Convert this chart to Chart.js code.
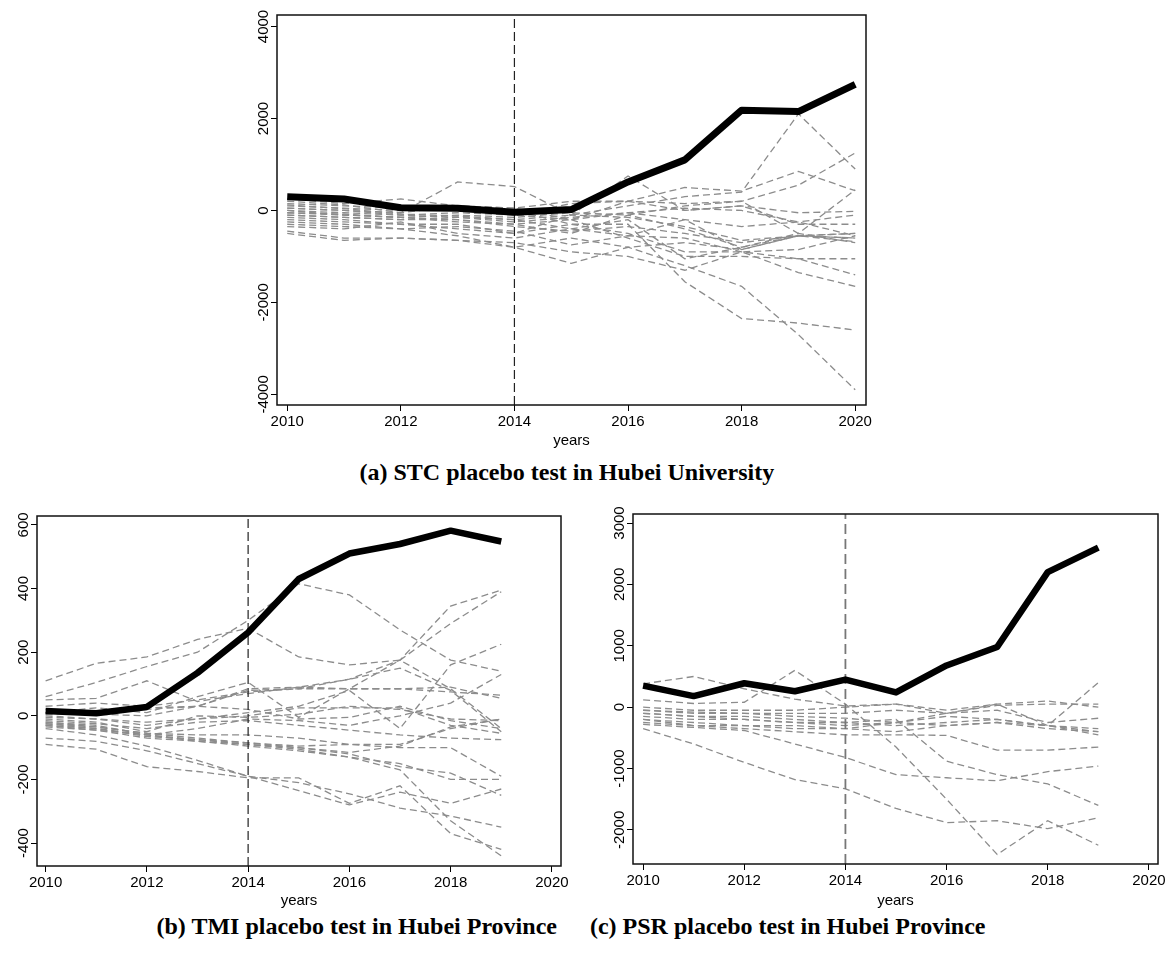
<html>
<head>
<meta charset="UTF-8">
<title>Placebo tests</title>
<script src="https://cdn.jsdelivr.net/npm/chart.js"></script>
<style>
  body { margin: 0; background: #fff; width: 1171px; height: 953px; position: relative; overflow: hidden; }
  canvas { position: absolute; }
  .cap { position: absolute; font-family: "Liberation Serif", "Times New Roman", serif; font-weight: bold; font-size: 24px; color: #000; white-space: nowrap; line-height: 28px; }
  .gap { display: inline-block; width: 33px; }
</style>
</head>
<body>
<canvas id="chartA" width="650" height="450" style="left:230px;top:0px"></canvas>
<canvas id="chartB" width="580" height="410" style="left:0px;top:500px"></canvas>
<canvas id="chartC" width="581" height="410" style="left:590px;top:500px"></canvas>
<div class="cap" id="capA" style="top:458px">(a) STC placebo test in Hubei University</div>
<div class="cap" id="capBC" style="top:912px">(b) TMI placebo test in Hubei Province<span class="gap"></span>(c) PSR placebo test in Hubei Province</div>

<script>
// years and ticks
const yearsA = [2010, 2011, 2012, 2013, 2014, 2015, 2016, 2017, 2018, 2019, 2020];
const yearsBC = [2010, 2011, 2012, 2013, 2014, 2015, 2016, 2017, 2018, 2019];
const xTicks = [2010, 2012, 2014, 2016, 2018, 2020];
const eventYear = 2014;

// (a) STC, Hubei University
const treatedA = [300, 250, 60, 50, -40, 20, 620, 1100, 2180, 2150, 2740];
const placeboA = [
  [120, 40, -80, -120, -200, -100, 100, 300, 400, 2100, 900],
  [-50, -80, -150, -100, -150, -50, -100, 100, 200, 550, 1250],
  [50, 0, -100, -50, -100, 150, 200, 500, 420, 850, 430],
  [-100, -150, -200, -200, -300, -200, 200, 150, 200, -500, 450],
  [200, 120, -50, 620, 520, -100, -150, -350, -650, -550, -600],
  [-150, -200, -300, -300, -500, -100, 750, 0, 100, -300, -300],
  [-200, -250, -300, -400, -500, -300, -300, -1550, -2350, -2450, -2600],
  [-300, -350, -400, -550, -800, -600, -800, -1200, -1650, -2700, -3900],
  [-500, -650, -600, -650, -800, -1150, -800, -700, -850, -550, -500],
  [-450, -600, -600, -650, -700, -900, -1000, -1300, -900, -850, -550],
  [250, 150, 250, 100, 50, -200, -600, -1000, -1000, -1050, -1050],
  [100, 50, 0, 50, 0, -300, -500, -900, -900, -1350, -1650],
  [0, -50, -100, -150, -200, -400, -550, -600, -900, -1050, -1400],
  [150, 100, 50, 100, 50, 200, 200, 0, 100, -50, -20],
  [-100, -150, -200, -150, -250, -150, -50, -200, -350, -250, -100],
  [-50, -100, -150, -200, -350, -450, -350, -500, -700, -550, -680],
  [0, -100, -150, -250, -300, -500, -100, -400, -800, -550, -500],
  [50, 0, -50, 100, -100, -200, -50, 50, 0, -250, -550],
  [-250, -300, -400, -350, -450, -750, -550, -200, -850, -550, -600],
  [-350, -400, -250, -500, -600, -400, -200, -1050, -800, -500, -700]
];
const yTicksA = [-4000, -2000, 0, 2000, 4000];

// (b) TMI, Hubei Province
const treatedB = [15, 8, 28, 135, 262, 430, 510, 540, 582, 548];
const placeboB = [
  [110, 165, 185, 240, 275, 185, 160, 175, 85, -40],
  [60, 105, 155, 200, 300, 415, 380, 270, 175, 140],
  [50, 55, 110, 45, 70, 90, 115, 175, 345, 395],
  [10, 25, 10, 60, 105, -5, 85, 175, 290, 390],
  [30, 40, 30, 50, 75, 85, 115, 150, 80, -50],
  [0, -10, -30, -10, 10, 30, 80, -40, 160, 225],
  [20, 15, 20, 30, 85, 90, 85, 85, 90, 55],
  [10, 5, 0, 30, 80, 85, 85, 85, 75, 65],
  [-5, -10, -20, -10, 0, 25, 25, 25, -30, -55],
  [-10, -20, -50, 0, -5, 5, 30, 20, -10, -15],
  [-20, -30, -60, -40, -10, -15, -30, 0, 40, 130],
  [-15, -25, -40, -20, -15, -30, -45, -60, -70, -75],
  [-25, -35, -55, -60, -60, -70, -90, -90, -40, -10],
  [-30, -40, -65, -75, -85, -100, -115, -95, -35, -10],
  [-35, -45, -70, -80, -90, -100, -120, -160, -180, -250],
  [-30, -45, -60, -75, -90, -105, -130, -150, -200, -200],
  [-20, -35, -55, -70, -85, -95, -90, -100, -100, -190],
  [-90, -105, -160, -175, -195, -195, -275, -220, -370, -420],
  [-70, -80, -110, -150, -190, -235, -280, -240, -275, -230],
  [-40, -60, -95, -140, -190, -210, -245, -290, -315, -350],
  [-25, -40, -60, -80, -95, -110, -130, -170, -330, -440],
  [5, 10, 25, 30, 20, -10, -5, 30, -15, -40]
];
const yTicksB = [-400, -200, 0, 200, 400, 600];

// (c) PSR, Hubei Province
const treatedC = [350, 180, 390, 260, 450, 240, 680, 980, 2200, 2600];
const placeboC = [
  [380, 500, 300, 130, 20, 50, -100, 50, -300, 400],
  [120, 60, 80, 600, 50, -650, -1500, -2400, -1850, -2250],
  [-350, -600, -900, -1180, -1330, -1650, -1880, -1850, -1980, -1800],
  [-280, -330, -380, -600, -820, -1100, -1150, -1200, -1050, -960],
  [-100, -150, -200, -250, -250, -200, -880, -1100, -1250, -1600],
  [-200, -300, -350, -400, -450, -450, -460, -700, -700, -650],
  [0, -50, -50, -50, 0, 50, -50, 50, 100, 0],
  [-50, -100, -100, -100, -100, -50, -100, 30, 50, 50],
  [-100, -150, -150, -200, -250, -300, -250, -200, -300, -400],
  [-150, -200, -200, -250, -300, -250, -300, -250, -300, -450],
  [-200, -250, -300, -300, -350, -400, -300, -250, -350, -400],
  [-50, -80, -100, -150, -180, -250, -100, -50, -250, -180],
  [-250, -300, -300, -350, -350, -250, -150, -200, -300, -350]
];
const yTicksC = [-2000, -1000, 0, 1000, 2000, 3000];

const tickFont = { family: '"Liberation Sans", Arial, sans-serif', size: 15 };

// frame round the plot and rotated y labels, Stata style
const stataPlugin = {
  id: 'stata',
  afterDraw(chart) {
    const { ctx, chartArea: a, scales } = chart;
    ctx.save();
    ctx.strokeStyle = '#111';
    ctx.lineWidth = 1.5;
    ctx.strokeRect(a.left, a.top, a.right - a.left, a.bottom - a.top);
    ctx.font = '15px "Liberation Sans", Arial, sans-serif';
    ctx.fillStyle = '#000';
    ctx.textAlign = 'center';
    ctx.textBaseline = 'bottom';
    scales.y.ticks.forEach(t => {
      const py = scales.y.getPixelForValue(t.value);
      ctx.save();
      ctx.translate(a.left - 7, py);
      ctx.rotate(-Math.PI / 2);
      ctx.fillText(String(t.value), 0, 1);
      ctx.restore();
    });
    ctx.restore();
  }
};

function makePanel(id, years, treated, placebo, yTicks, opt) {
  const pts = vals => years.map((x, i) => ({ x: x, y: vals[i] }));
  const datasets = [];
  datasets.push({
    data: pts(treated), borderColor: '#000', borderWidth: opt.mainWidth,
    pointRadius: 0, order: 0, borderJoinStyle: 'round'
  });
  placebo.forEach(p => datasets.push({
    data: pts(p), borderColor: '#8c8c8c', borderWidth: 1.3,
    borderDash: [7, 4], pointRadius: 0, order: 2
  }));
  datasets.push({
    data: [{ x: eventYear, y: opt.yMin }, { x: eventYear, y: opt.yMax }],
    borderColor: opt.eventColor, borderWidth: opt.eventWidth,
    borderDash: opt.eventDash, pointRadius: 0, order: 1
  });

  new Chart(document.getElementById(id), {
    type: 'line',
    data: { datasets: datasets },
    plugins: [stataPlugin],
    options: {
      responsive: false,
      animation: false,
      devicePixelRatio: 1,
      layout: { padding: { top: opt.padTop, right: opt.padRight, left: 0, bottom: 0 } },
      plugins: { legend: { display: false }, tooltip: { enabled: false } },
      scales: {
        x: {
          type: 'linear', min: opt.xMin, max: opt.xMax,
          afterBuildTicks: s => { s.ticks = xTicks.map(v => ({ value: v })); },
          afterFit: s => { s.height = opt.xAxisH; },
          grid: { drawOnChartArea: false, drawTicks: true, tickLength: 6, color: '#000' },
          border: { display: false },
          ticks: { font: tickFont, color: '#000', padding: 2, maxRotation: 0, callback: v => String(v) },
          title: { display: true, text: 'years', font: tickFont, color: '#000', padding: 0 }
        },
        y: {
          type: 'linear', min: opt.yMin, max: opt.yMax,
          afterBuildTicks: s => { s.ticks = yTicks.map(v => ({ value: v })); },
          afterFit: s => { s.width = opt.yAxisW; },
          grid: { drawOnChartArea: false, drawTicks: true, tickLength: 6, color: '#000' },
          border: { display: false },
          ticks: { display: false }
        }
      }
    }
  });
}

makePanel('chartA', yearsA, treatedA, placeboA, yTicksA, {
  xMin: 2009.82, xMax: 2020.19, yMin: -4230, yMax: 4250,
  padTop: 15, padRight: 14, yAxisW: 47, xAxisH: 45, mainWidth: 7,
  eventColor: '#222', eventWidth: 1.2, eventDash: [9, 4]
});
makePanel('chartB', yearsBC, treatedB, placeboB, yTicksB, {
  xMin: 2009.83, xMax: 2020.18, yMin: -472, yMax: 628,
  padTop: 16, padRight: 19, yAxisW: 37, xAxisH: 44, mainWidth: 6.5,
  eventColor: '#222', eventWidth: 1.2, eventDash: [9, 4]
});
makePanel('chartC', yearsBC, treatedC, placeboC, yTicksC, {
  xMin: 2009.8, xMax: 2020.18, yMin: -2555, yMax: 3147,
  padTop: 14, padRight: 13, yAxisW: 43, xAxisH: 46, mainWidth: 6.5,
  eventColor: '#777', eventWidth: 1.8, eventDash: [10, 5]
});

// centre the captions
const capA = document.getElementById('capA');
capA.style.left = (567 - capA.offsetWidth / 2) + 'px';
const capBC = document.getElementById('capBC');
capBC.style.left = (571 - capBC.offsetWidth / 2) + 'px';
</script>
</body>
</html>
